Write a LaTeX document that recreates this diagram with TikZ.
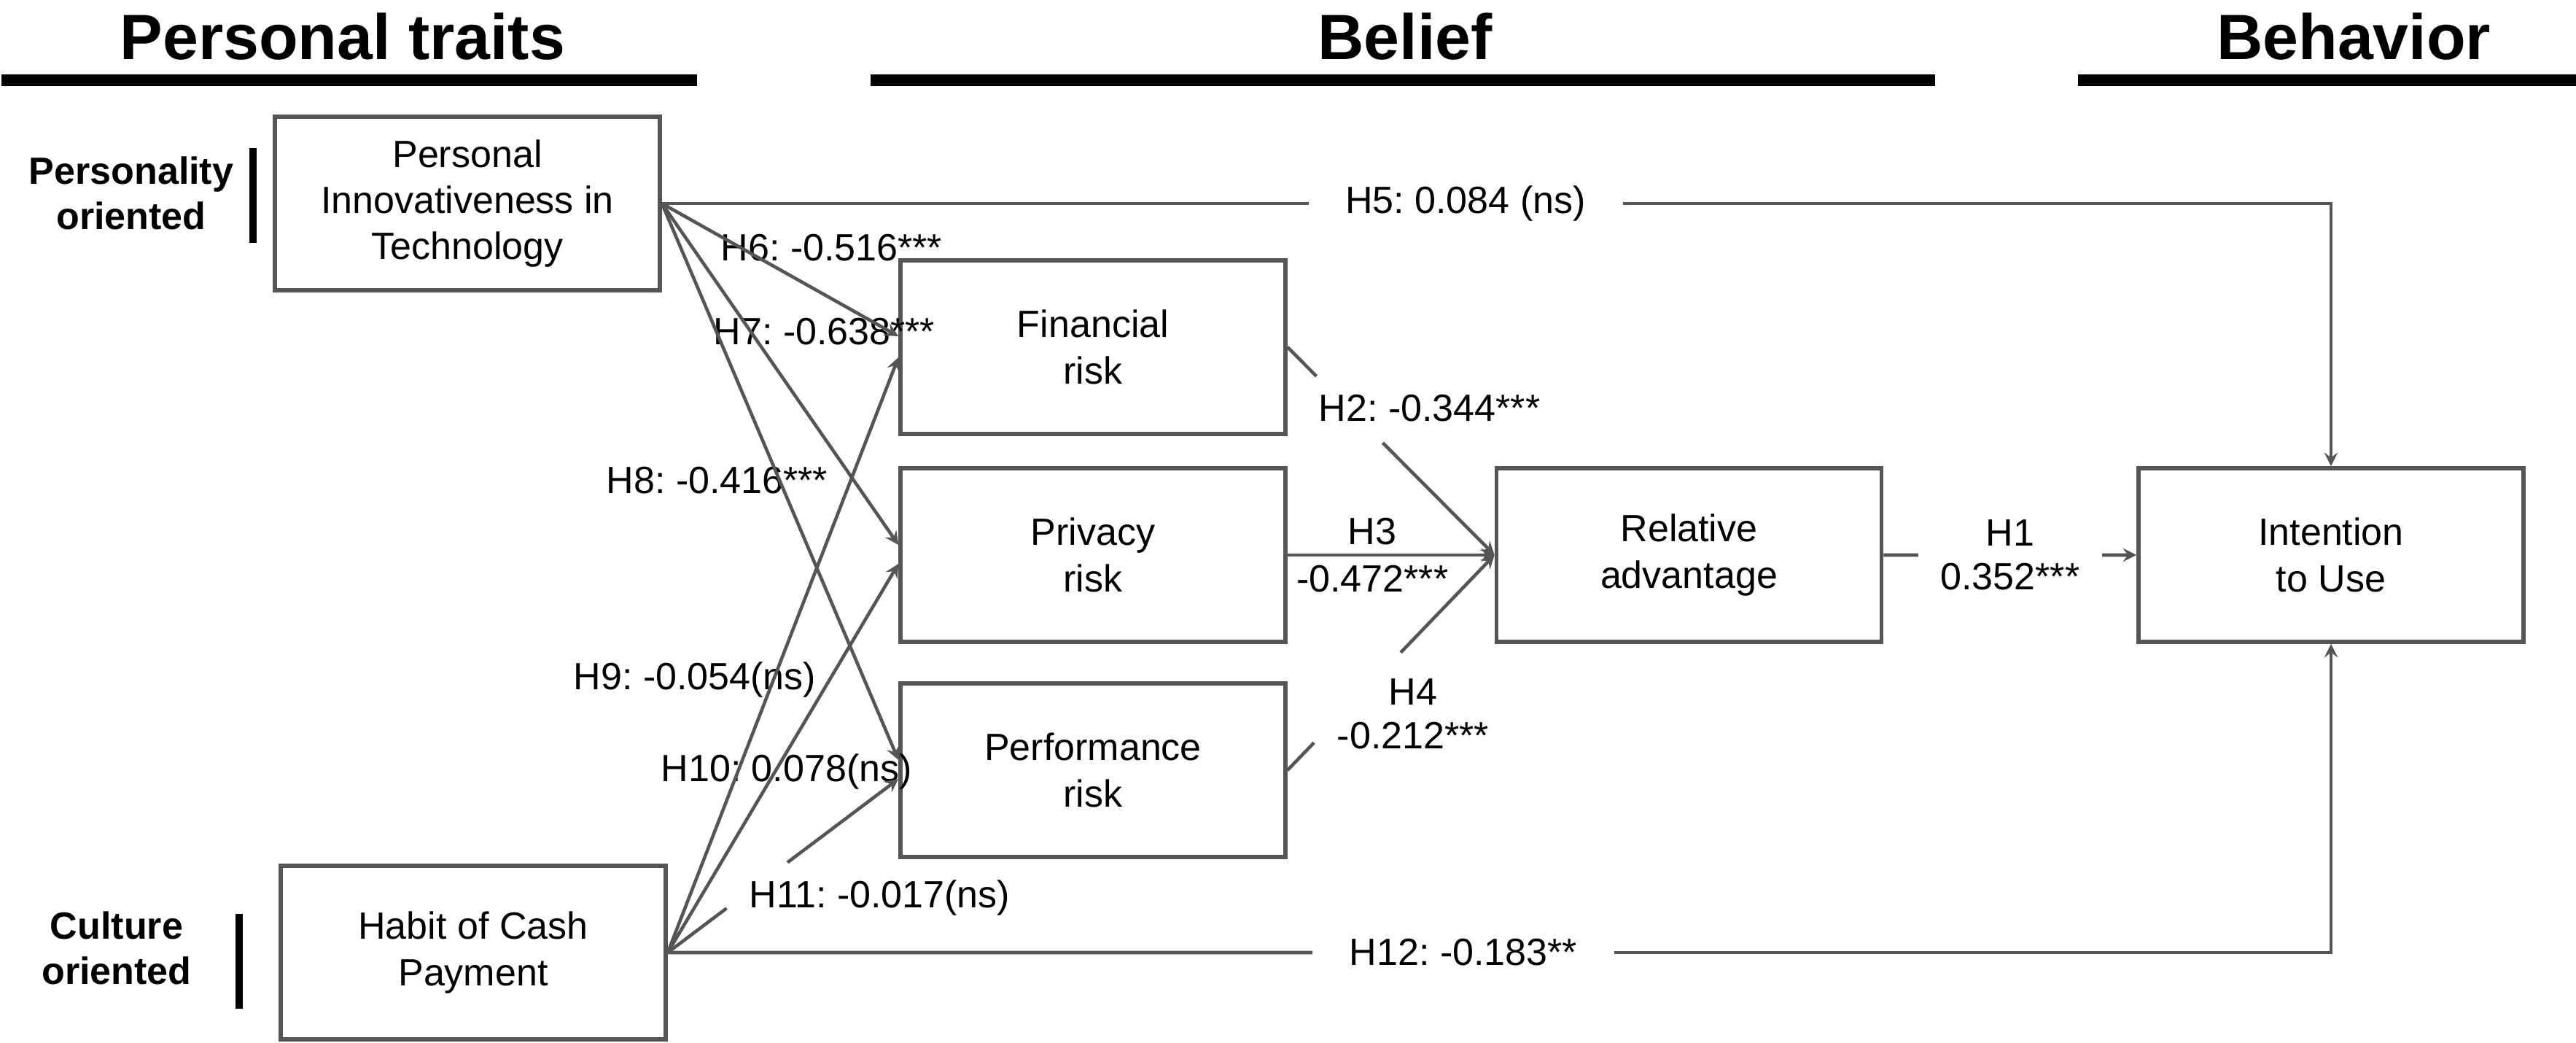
\documentclass[tikz,border=0pt]{standalone}
\usepackage{fontspec}
\setmainfont{Liberation Sans}
\usepackage{tikz}
\usetikzlibrary{shapes.geometric, arrows, calc}
\definecolor{linegray}{RGB}{85,85,85}

\begin{document}
\frenchspacing
\begin{tikzpicture}[node distance=2.9cm]
\tikzstyle{construct} = [rectangle, minimum width=5.28cm, minimum height=2.38cm, text centered, align=center, draw=linegray, line width=1.6pt, font=\fontsize{14.8}{18}\selectfont]
\tikzstyle{header} = [font=\fontsize{25}{30}\selectfont\bfseries]
\tikzstyle{side} = [align=center, font=\fontsize{14.8}{17.5}\selectfont\bfseries]
\tikzstyle{coef} = [inner sep=0pt, align=center, font=\fontsize{14.8}{17}\selectfont]
\tikzstyle{bar} = [line width=0.16cm]
\tikzstyle{sidebar} = [line width=0.1cm]
\tikzstyle{link} = [draw=linegray, line width=1.3pt]
\tikzstyle{arrow} = [link, ->, >=stealth]
\useasboundingbox (0,0) rectangle (35.33,14.30);
 % headers
\node (hpt) [header] at (4.70,13.80) {Personal traits};
\node (hbel) [header] at (19.27,13.80) {Belief};
\node (hbeh) [header] at (32.28,13.80) {Behavior};
\draw [bar] (0.02,13.20) -- (9.56,13.20);
\draw [bar] (11.94,13.20) -- (26.54,13.20);
\draw [bar] (28.50,13.20) -- (35.33,13.20);

 % constructs
\node (pit) [construct] at (6.41,11.51) {Personal\\Innovativeness in\\Technology};
\node (hab) [construct, below of=pit, xshift=0.08cm, yshift=-7.37cm] {Habit of Cash\\Payment};
\node (priv) [construct, right of=pit, xshift=5.68cm, yshift=-4.82cm] {Privacy\\risk};
\node (fin) [construct, above of=priv, yshift=-0.05cm] {Financial\\risk};
\node (perf) [construct, below of=priv, yshift=-0.05cm] {Performance\\risk};
\node (ra) [construct, right of=priv, xshift=5.275cm] {Relative\\advantage};
\node (itu) [construct, right of=ra, xshift=5.905cm] {Intention\\to Use};
\node (po) [side] at (1.80,11.65) {Personality\\oriented};
\node (co) [side] at (1.60,1.30) {Culture\\oriented};
\draw [sidebar] (3.47,12.27) -- (3.47,10.97);
\draw [sidebar] (3.28,1.77) -- (3.28,0.47);

 % path coefficients
\node (h5) [coef, inner xsep=0.5cm] at (20.10,11.51) {H5: 0.084 (ns)};
\node (h12) [coef, inner xsep=0.5cm] at (20.07,1.24) {H12: -0.183**};
\node (h1) [coef, inner xsep=0.3cm] at (27.57,6.69) {H1\\0.352***};
\node (h6) [coef, anchor=west] at (9.88,10.90) {H6: -0.516***};
\node (h7) [coef, anchor=west] at (9.78,9.75) {H7: -0.638***};
\node (h8) [coef, anchor=east] at (11.36,7.71) {H8: -0.416***};
\node (h9) [coef, anchor=west] at (7.86,4.98) {H9: -0.054(ns)};
\node (h10) [coef, anchor=west] at (9.06,3.72) {H10: 0.078(ns)};
\node (h11) [coef, anchor=west] at (10.27,1.99) {H11: -0.017(ns)};
\node (h2) [coef, anchor=west] at (18.08,8.70) {H2: -0.344***};
\node (h4) [coef] at (19.38,4.51) {H4\\-0.212***};

 % connections
\draw [link] (pit.east) -- (h5.west);
\draw [arrow] (h5.east) -| (itu.north);
\draw [link] (hab.east) -- (h12.west);
\draw [arrow] (h12.east) -| (itu.south);
\draw [arrow] (pit.east) -- ([yshift=0.15cm]fin.west);
\draw [arrow] (pit.east) -- ([yshift=0.14cm]priv.west);
\draw [arrow] (pit.east) -- ([yshift=0.14cm]perf.west);
\draw [arrow] (hab.east) -- ([yshift=-0.14cm]fin.west);
\draw [arrow] (hab.east) -- ([yshift=-0.12cm]priv.west);
\draw [link] (hab.east) -- ($(hab.east)!.255!([yshift=-0.12cm]perf.west)$);
\draw [arrow] ($(hab.east)!.519!([yshift=-0.12cm]perf.west)$) -- ([yshift=-0.12cm]perf.west);
\draw [link] (fin.east) -- ($(fin.east)!.14!(ra.west)$);
\draw [arrow] ($(fin.east)!.46!(ra.west)$) -- (ra.west);
\draw [arrow] (priv.east) -- node[coef, above=0.12cm, pos=.41] (h3) {H3} node[coef, below=0.12cm, pos=.41] (h3v) {-0.472***} (ra.west);
\draw [link] (perf.east) -- ($(perf.east)!.128!(ra.west)$);
\draw [arrow] ($(perf.east)!.547!(ra.west)$) -- (ra.west);
\draw [link] (ra.east) -- (h1.west);
\draw [arrow] (h1.east) -- (itu.west);
\end{tikzpicture}
\end{document}
